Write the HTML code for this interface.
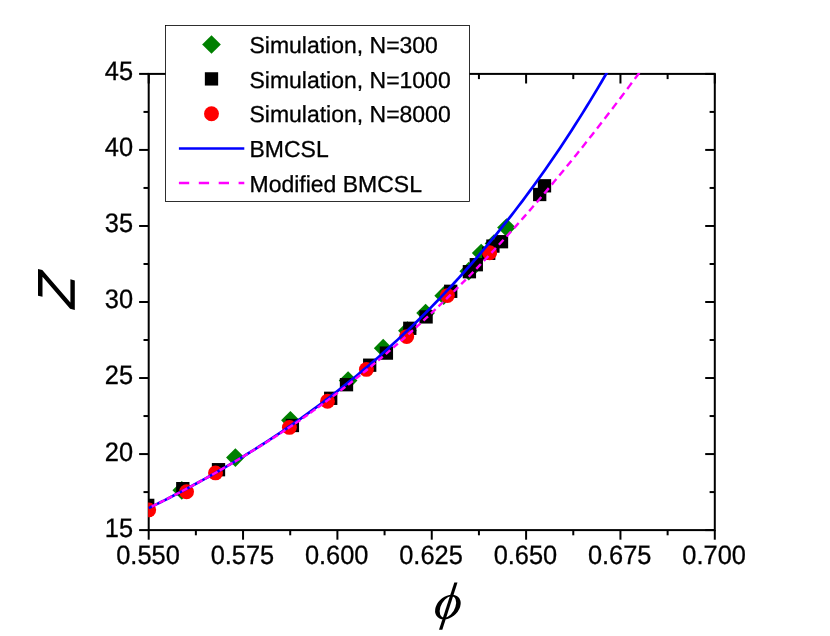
<!DOCTYPE html>
<html><head><meta charset="utf-8"><title>chart</title>
<style>
html,body{margin:0;padding:0;background:#fff;}
body{width:830px;height:636px;overflow:hidden;font-family:"Liberation Sans",sans-serif;}
svg{display:block;}
text{font-family:"Liberation Sans",sans-serif;fill:#000;stroke:#000;stroke-width:0.3px;text-rendering:geometricPrecision;}
.t{will-change:transform;}
</style></head><body>
<svg width="830" height="636" viewBox="0 0 830 636">
<rect width="830" height="636" fill="#fff"/>
<defs><clipPath id="cp"><rect x="148.14999999999998" y="73.0" width="568.0999999999999" height="458.20000000000005"/></clipPath></defs>
<g stroke="#000" stroke-width="2" fill="none">
<rect x="148.7" y="73.9" width="566.0999999999999" height="456.20000000000005"/>
<line x1="148.70" y1="530.1" x2="148.70" y2="539.7"/><line x1="148.70" y1="73.9" x2="148.70" y2="83.5"/><line x1="195.87" y1="530.1" x2="195.87" y2="535.3000000000001"/><line x1="195.87" y1="73.9" x2="195.87" y2="79.10000000000001"/><line x1="243.05" y1="530.1" x2="243.05" y2="539.7"/><line x1="243.05" y1="73.9" x2="243.05" y2="83.5"/><line x1="290.22" y1="530.1" x2="290.22" y2="535.3000000000001"/><line x1="290.22" y1="73.9" x2="290.22" y2="79.10000000000001"/><line x1="337.40" y1="530.1" x2="337.40" y2="539.7"/><line x1="337.40" y1="73.9" x2="337.40" y2="83.5"/><line x1="384.57" y1="530.1" x2="384.57" y2="535.3000000000001"/><line x1="384.57" y1="73.9" x2="384.57" y2="79.10000000000001"/><line x1="431.75" y1="530.1" x2="431.75" y2="539.7"/><line x1="431.75" y1="73.9" x2="431.75" y2="83.5"/><line x1="478.93" y1="530.1" x2="478.93" y2="535.3000000000001"/><line x1="478.93" y1="73.9" x2="478.93" y2="79.10000000000001"/><line x1="526.10" y1="530.1" x2="526.10" y2="539.7"/><line x1="526.10" y1="73.9" x2="526.10" y2="83.5"/><line x1="573.28" y1="530.1" x2="573.28" y2="535.3000000000001"/><line x1="573.28" y1="73.9" x2="573.28" y2="79.10000000000001"/><line x1="620.45" y1="530.1" x2="620.45" y2="539.7"/><line x1="620.45" y1="73.9" x2="620.45" y2="83.5"/><line x1="667.62" y1="530.1" x2="667.62" y2="535.3000000000001"/><line x1="667.62" y1="73.9" x2="667.62" y2="79.10000000000001"/><line x1="714.80" y1="530.1" x2="714.80" y2="539.7"/><line x1="714.80" y1="73.9" x2="714.80" y2="83.5"/><line x1="148.7" y1="530.10" x2="139.1" y2="530.10"/><line x1="714.8" y1="530.10" x2="705.1999999999999" y2="530.10"/><line x1="148.7" y1="492.08" x2="143.5" y2="492.08"/><line x1="714.8" y1="492.08" x2="709.5999999999999" y2="492.08"/><line x1="148.7" y1="454.07" x2="139.1" y2="454.07"/><line x1="714.8" y1="454.07" x2="705.1999999999999" y2="454.07"/><line x1="148.7" y1="416.05" x2="143.5" y2="416.05"/><line x1="714.8" y1="416.05" x2="709.5999999999999" y2="416.05"/><line x1="148.7" y1="378.03" x2="139.1" y2="378.03"/><line x1="714.8" y1="378.03" x2="705.1999999999999" y2="378.03"/><line x1="148.7" y1="340.02" x2="143.5" y2="340.02"/><line x1="714.8" y1="340.02" x2="709.5999999999999" y2="340.02"/><line x1="148.7" y1="302.00" x2="139.1" y2="302.00"/><line x1="714.8" y1="302.00" x2="705.1999999999999" y2="302.00"/><line x1="148.7" y1="263.98" x2="143.5" y2="263.98"/><line x1="714.8" y1="263.98" x2="709.5999999999999" y2="263.98"/><line x1="148.7" y1="225.97" x2="139.1" y2="225.97"/><line x1="714.8" y1="225.97" x2="705.1999999999999" y2="225.97"/><line x1="148.7" y1="187.95" x2="143.5" y2="187.95"/><line x1="714.8" y1="187.95" x2="709.5999999999999" y2="187.95"/><line x1="148.7" y1="149.93" x2="139.1" y2="149.93"/><line x1="714.8" y1="149.93" x2="705.1999999999999" y2="149.93"/><line x1="148.7" y1="111.92" x2="143.5" y2="111.92"/><line x1="714.8" y1="111.92" x2="709.5999999999999" y2="111.92"/><line x1="148.7" y1="73.90" x2="139.1" y2="73.90"/><line x1="714.8" y1="73.90" x2="705.1999999999999" y2="73.90"/>
</g>
<g clip-path="url(#cp)">
<path d="M172.45,490.30 L181.80,480.95 L191.15,490.30 L181.80,499.65Z" fill="#008000"/><path d="M226.05,457.60 L235.40,448.25 L244.75,457.60 L235.40,466.95Z" fill="#008000"/><path d="M281.05,420.30 L290.40,410.95 L299.75,420.30 L290.40,429.65Z" fill="#008000"/><path d="M338.75,380.60 L348.10,371.25 L357.45,380.60 L348.10,389.95Z" fill="#008000"/><path d="M373.85,348.20 L383.20,338.85 L392.55,348.20 L383.20,357.55Z" fill="#008000"/><path d="M398.05,330.70 L407.40,321.35 L416.75,330.70 L407.40,340.05Z" fill="#008000"/><path d="M416.25,313.10 L425.60,303.75 L434.95,313.10 L425.60,322.45Z" fill="#008000"/><path d="M434.35,295.70 L443.70,286.35 L453.05,295.70 L443.70,305.05Z" fill="#008000"/><path d="M459.45,271.20 L468.80,261.85 L478.15,271.20 L468.80,280.55Z" fill="#008000"/><path d="M471.85,253.10 L481.20,243.75 L490.55,253.10 L481.20,262.45Z" fill="#008000"/><path d="M484.65,243.50 L494.00,234.15 L503.35,243.50 L494.00,252.85Z" fill="#008000"/><path d="M497.15,227.50 L506.50,218.15 L515.85,227.50 L506.50,236.85Z" fill="#008000"/>
<rect x="141.05" y="498.75" width="13.3" height="13.3" fill="#000"/><rect x="176.15" y="482.00" width="13.3" height="13.3" fill="#000"/><rect x="211.85" y="463.05" width="13.3" height="13.3" fill="#000"/><rect x="285.75" y="418.85" width="13.3" height="13.3" fill="#000"/><rect x="324.05" y="391.65" width="13.3" height="13.3" fill="#000"/><rect x="339.85" y="378.05" width="13.3" height="13.3" fill="#000"/><rect x="363.05" y="358.55" width="13.3" height="13.3" fill="#000"/><rect x="379.75" y="346.45" width="13.3" height="13.3" fill="#000"/><rect x="403.15" y="321.65" width="13.3" height="13.3" fill="#000"/><rect x="419.45" y="310.25" width="13.3" height="13.3" fill="#000"/><rect x="444.05" y="284.65" width="13.3" height="13.3" fill="#000"/><rect x="462.75" y="265.05" width="13.3" height="13.3" fill="#000"/><rect x="469.65" y="258.05" width="13.3" height="13.3" fill="#000"/><rect x="482.05" y="246.65" width="13.3" height="13.3" fill="#000"/><rect x="486.25" y="239.45" width="13.3" height="13.3" fill="#000"/><rect x="494.85" y="235.05" width="13.3" height="13.3" fill="#000"/><rect x="533.05" y="187.85" width="13.3" height="13.3" fill="#000"/><rect x="537.85" y="179.15" width="13.3" height="13.3" fill="#000"/>
<circle cx="148.70" cy="509.90" r="7.45" fill="#ff0000"/><circle cx="186.55" cy="491.70" r="7.45" fill="#ff0000"/><circle cx="215.50" cy="472.90" r="7.45" fill="#ff0000"/><circle cx="289.40" cy="427.40" r="7.45" fill="#ff0000"/><circle cx="327.50" cy="401.30" r="7.45" fill="#ff0000"/><circle cx="366.40" cy="369.40" r="7.45" fill="#ff0000"/><circle cx="406.70" cy="336.60" r="7.45" fill="#ff0000"/><circle cx="447.40" cy="295.60" r="7.45" fill="#ff0000"/><circle cx="489.60" cy="252.80" r="7.45" fill="#ff0000"/>
<path d="M148.70,508.11 L152.47,506.26 L156.25,504.38 L160.02,502.50 L163.80,500.60 L167.57,498.68 L171.34,496.75 L175.12,494.80 L178.89,492.83 L182.67,490.85 L186.44,488.85 L190.21,486.83 L193.99,484.80 L197.76,482.74 L201.54,480.67 L205.31,478.58 L209.08,476.47 L212.86,474.34 L216.63,472.19 L220.41,470.02 L224.18,467.82 L227.95,465.61 L231.73,463.38 L235.50,461.13 L239.28,458.85 L243.05,456.56 L246.82,454.24 L250.60,451.90 L254.37,449.53 L258.15,447.15 L261.92,444.74 L265.69,442.31 L269.47,439.85 L273.24,437.37 L277.02,434.87 L280.79,432.34 L284.56,429.78 L288.34,427.20 L292.11,424.60 L295.89,421.97 L299.66,419.31 L303.43,416.62 L307.21,413.90 L310.98,411.15 L314.76,408.38 L318.53,405.57 L322.30,402.74 L326.08,399.88 L329.85,396.99 L333.63,394.08 L337.40,391.13 L341.17,388.15 L344.95,385.14 L348.72,382.11 L352.50,379.04 L356.27,375.94 L360.04,372.80 L363.82,369.64 L367.59,366.44 L371.37,363.21 L375.14,359.94 L378.91,356.65 L382.69,353.31 L386.46,349.94 L390.24,346.54 L394.01,343.10 L397.78,339.63 L401.56,336.11 L405.33,332.56 L409.11,328.98 L412.88,325.35 L416.65,321.69 L420.43,317.98 L424.20,314.24 L427.98,310.45 L431.75,306.63 L435.52,302.76 L439.30,298.85 L443.07,294.90 L446.85,290.91 L450.62,286.87 L454.39,282.79 L458.17,278.66 L461.94,274.49 L465.72,270.27 L469.49,266.01 L473.26,261.69 L477.04,257.33 L480.81,252.92 L484.59,248.46 L488.36,243.95 L492.13,239.39 L495.91,234.78 L499.68,230.12 L503.46,225.41 L507.23,220.65 L511.00,215.84 L514.78,210.97 L518.55,206.04 L522.33,201.06 L526.10,196.01 L529.87,190.92 L533.65,185.76 L537.42,180.54 L541.20,175.26 L544.97,169.92 L548.74,164.51 L552.52,159.04 L556.29,153.51 L560.07,147.91 L563.84,142.24 L567.61,136.51 L571.39,130.71 L575.16,124.84 L578.94,118.89 L582.71,112.88 L586.48,106.79 L590.26,100.63 L594.03,94.39 L597.81,88.08 L601.58,81.69 L605.35,75.22 L609.13,68.67 L612.90,62.04 L616.68,55.33" fill="none" stroke="#0000ff" stroke-width="2.7" stroke-linejoin="round"/>
<path d="M151.72,506.63 L154.44,505.28 L157.15,503.93 M159.27,502.88 L161.98,501.51 L164.70,500.14 M166.82,499.06 L169.53,497.68 L172.25,496.28 M174.36,495.19 L177.08,493.78 L179.80,492.36 M181.91,491.25 L184.63,489.81 L187.35,488.37 M189.46,487.24 L192.18,485.78 L194.89,484.30 M197.01,483.15 L199.72,481.67 L202.44,480.17 M204.56,479.00 L207.27,477.48 L209.99,475.96 M212.10,474.76 L214.82,473.22 L217.54,471.67 M219.65,470.45 L222.37,468.88 L225.09,467.30 M227.20,466.06 L229.92,464.46 L232.63,462.86 M234.75,461.60 L237.46,459.98 L240.18,458.35 M242.30,457.08 L245.01,455.44 L247.73,453.79 M249.84,452.50 L252.56,450.84 L255.28,449.17 M257.39,447.86 L260.11,446.17 L262.83,444.48 M264.94,443.15 L267.64,441.45 L270.35,439.73 M272.49,438.37 L275.17,436.65 L277.86,434.92 M280.04,433.51 L282.70,431.77 L285.36,430.02 M287.58,428.55 L290.22,426.80 L292.86,425.03 M295.13,423.49 L297.74,421.71 L300.34,419.91 M302.68,418.28 L305.26,416.47 L307.83,414.65 M310.23,412.95 L312.78,411.13 L315.33,409.29 M317.78,407.52 L320.30,405.69 L322.83,403.83 M325.32,402.00 L327.83,400.15 L330.33,398.28 M332.87,396.38 L335.35,394.51 L337.83,392.63 M340.42,390.66 L342.87,388.78 L345.33,386.88 M347.97,384.83 L350.39,382.94 L352.82,381.03 M355.52,378.90 L357.92,377.00 L360.32,375.08 M363.06,372.87 L365.44,370.95 L367.81,369.02 M370.61,366.73 L372.95,364.80 L375.30,362.86 M378.16,360.48 L380.47,358.54 L382.79,356.59 M385.71,354.12 L388.01,352.16 L390.31,350.18 M393.26,347.65 L395.56,345.65 L397.86,343.64 M400.80,341.06 L403.11,339.03 L405.41,336.99 M408.35,334.37 L410.65,332.30 L412.96,330.22 M415.90,327.55 L418.20,325.45 L420.50,323.34 M423.45,320.63 L425.75,318.49 L428.05,316.34 M431.00,313.58 L433.30,311.41 L435.60,309.23 M438.54,306.42 L440.85,304.21 L443.15,301.99 M446.09,299.14 L448.39,296.89 L450.70,294.64 M453.64,291.74 L455.94,289.46 L458.24,287.16 M461.19,284.21 L463.49,281.90 L465.79,279.57 M468.74,276.57 L471.04,274.22 L473.34,271.85 M476.28,268.81 L478.59,266.42 L480.89,264.01 M483.83,260.92 L486.13,258.49 L488.44,256.05 M491.38,252.91 L493.68,250.45 L495.98,247.97 M498.93,244.78 L501.23,242.28 L503.53,239.77 M506.48,236.55 L508.78,234.01 L511.08,231.47 M514.02,228.19 L516.33,225.62 L518.63,223.04 M521.57,219.72 L523.87,217.11 L526.18,214.49 M529.12,211.12 L531.42,208.47 L533.72,205.82 M536.67,202.40 L538.97,199.72 L541.27,197.03 M544.22,193.56 L546.52,190.85 L548.82,188.12 M551.76,184.61 L554.07,181.85 L556.37,179.09 M559.31,175.54 L561.61,172.75 L563.92,169.94 M566.86,166.35 L569.16,163.52 L571.46,160.69 M574.41,157.05 L576.71,154.19 L579.01,151.32 M581.96,147.63 L584.26,144.74 L586.56,141.84 M589.50,138.11 L591.81,135.18 L594.11,132.25 M597.05,128.48 L599.35,125.52 L601.66,122.55 M604.60,118.75 L606.90,115.76 L609.20,112.76 M612.15,108.91 L614.45,105.89 L616.75,102.87 M619.70,98.98 L622.00,95.93 L624.30,92.88 M627.24,88.96 L629.55,85.88 L631.85,82.80 M634.79,78.85 L637.09,75.75 L639.40,72.64 M642.34,68.65 L644.64,65.53 L646.94,62.40 M649.89,58.38 L652.19,55.23 L654.49,52.08" fill="none" stroke="#ff00ff" stroke-width="2.4"/>
</g>
<g class="t" font-size="25.4px">
<text transform="translate(148.0,564.1) scale(1,1.05)" text-anchor="middle">0.550</text><text transform="translate(242.4,564.1) scale(1,1.05)" text-anchor="middle">0.575</text><text transform="translate(336.7,564.1) scale(1,1.05)" text-anchor="middle">0.600</text><text transform="translate(431.0,564.1) scale(1,1.05)" text-anchor="middle">0.625</text><text transform="translate(525.4,564.1) scale(1,1.05)" text-anchor="middle">0.650</text><text transform="translate(619.7,564.1) scale(1,1.05)" text-anchor="middle">0.675</text><text transform="translate(714.1,564.1) scale(1,1.05)" text-anchor="middle">0.700</text>
<text transform="translate(133.1,536.5) scale(1,1.05)" text-anchor="end">15</text><text transform="translate(133.1,460.5) scale(1,1.05)" text-anchor="end">20</text><text transform="translate(133.1,384.4) scale(1,1.05)" text-anchor="end">25</text><text transform="translate(133.1,308.4) scale(1,1.05)" text-anchor="end">30</text><text transform="translate(133.1,232.4) scale(1,1.05)" text-anchor="end">35</text><text transform="translate(133.1,156.3) scale(1,1.05)" text-anchor="end">40</text><text transform="translate(133.1,80.3) scale(1,1.05)" text-anchor="end">45</text>
</g>
<!-- legend -->
<rect x="165.5" y="25.5" width="304" height="176" fill="#fff" stroke="#000" stroke-width="0.82"/>
<path d="M202.15,44.50 L211.50,35.15 L220.85,44.50 L211.50,53.85Z" fill="#008000"/>
<rect x="204.85" y="72.25" width="13.3" height="13.3" fill="#000"/>
<circle cx="211.50" cy="113.70" r="7.45" fill="#ff0000"/>
<line x1="178.9" y1="148.5" x2="244.3" y2="148.5" stroke="#0000ff" stroke-width="2.7"/>
<line x1="178.9" y1="183.0" x2="244.3" y2="183.0" stroke="#ff00ff" stroke-width="2.7" stroke-dasharray="10.3 9.6"/>
<g class="t" font-size="23.1px" transform="translate(249.5,0) scale(0.995,1)">
<text x="0" y="53.0">Simulation, N=300</text>
<text x="0" y="87.7">Simulation, N=1000</text>
<text x="0" y="122.4">Simulation, N=8000</text>
<text x="0" y="157.1">BMCSL</text>
<text x="0" y="191.7">Modified BMCSL</text>
</g>
<!-- Z axis label (italic Z rotated 90deg ccw) -->
<polygon points="38.0,269.0 42.3,270.1 70.4,302.5 70.4,279.3 74.8,280.6 74.8,310.0 70.1,308.8 42.5,276.8 42.5,296.8 38.0,295.7" fill="#000"/>
<!-- phi label -->
<g transform="translate(447.9,607)">
<path fill-rule="evenodd" transform="skewX(-17.8)" d="M-12.2,0 A12.2,12.3 0 1 0 12.2,0 A12.2,12.3 0 1 0 -12.2,0 Z M-7.5,0 A7.5,10.7 0 1 1 7.5,0 A7.5,10.7 0 1 1 -7.5,0 Z" fill="#000"/>
<polygon points="6.4,-24.5 9.6,-24.5 -5.6,22.7 -8.9,22.7" fill="#000"/>
</g>
</svg>
</body></html>
